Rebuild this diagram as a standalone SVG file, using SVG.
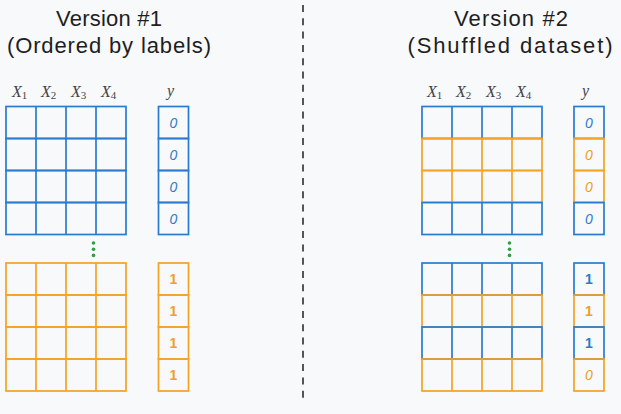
<svg xmlns="http://www.w3.org/2000/svg" xmlns:xlink="http://www.w3.org/1999/xlink" width="621" height="414" viewBox="0 0 621 414">
<style>
.bg{fill:#f8f9fb}
.b{stroke:#2a7bcf;fill:none;stroke-width:1.7}
.o{stroke:#f4a324;fill:none;stroke-width:1.7}
.title{font-family:"Liberation Sans","DejaVu Sans",sans-serif;font-size:22px;fill:#1e1e1e;text-anchor:middle}
.math{font-family:"Liberation Serif","DejaVu Serif",serif;font-style:italic;font-size:16px;fill:#444}
.sub{font-family:"Liberation Serif","DejaVu Serif",serif;font-size:11px;fill:#444;font-style:normal}
.dig{font-family:"Liberation Sans","DejaVu Sans",sans-serif;font-size:14px;font-weight:bold;text-anchor:middle}
.it{font-style:italic;font-weight:normal}
.tb{fill:#2a7bcf}
.to{fill:#f0a020}
.dot{fill:#2f9e44}
</style>
<defs>
<g id="xrow"><rect x="0" y="0" width="120" height="32"/><line x1="30" y1="0" x2="30" y2="32"/><line x1="60" y1="0" x2="60" y2="32"/><line x1="90" y1="0" x2="90" y2="32"/></g>
<rect id="ycell" x="0" y="0" width="30" height="32"/>
</defs>
<rect class="bg" x="0" y="0" width="621" height="414"/>

<g id="titles">
<text class="title" x="109" y="26" textLength="106">Version #1</text>
<text class="title" x="109" y="53" textLength="204">(Ordered by labels)</text>
<text class="title" x="511" y="26" textLength="114">Version #2</text>
<text class="title" x="510" y="53" textLength="205">(Shuffled dataset)</text>
</g>

<g id="headers-left">
<text class="math" x="12" y="96.5">X<tspan class="sub" dy="2.5">1</tspan></text>
<text class="math" x="41" y="96.5">X<tspan class="sub" dy="2.5">2</tspan></text>
<text class="math" x="71" y="96.5">X<tspan class="sub" dy="2.5">3</tspan></text>
<text class="math" x="101" y="96.5">X<tspan class="sub" dy="2.5">4</tspan></text>
<text class="math" x="167" y="96">y</text>
</g>
<g id="headers-right">
<text class="math" x="427" y="96.5">X<tspan class="sub" dy="2.5">1</tspan></text>
<text class="math" x="456" y="96.5">X<tspan class="sub" dy="2.5">2</tspan></text>
<text class="math" x="486" y="96.5">X<tspan class="sub" dy="2.5">3</tspan></text>
<text class="math" x="516" y="96.5">X<tspan class="sub" dy="2.5">4</tspan></text>
<text class="math" x="582" y="96">y</text>
</g>

<g id="left-top-X">
<use href="#xrow" xlink:href="#xrow" class="b" x="6" y="106.5"/>
<use href="#xrow" xlink:href="#xrow" class="b" x="6" y="138.5"/>
<use href="#xrow" xlink:href="#xrow" class="b" x="6" y="170.5"/>
<use href="#xrow" xlink:href="#xrow" class="b" x="6" y="202.5"/>
</g>
<g id="left-top-y">
<use href="#ycell" xlink:href="#ycell" class="b" x="158.5" y="106.5"/>
<use href="#ycell" xlink:href="#ycell" class="b" x="158.5" y="138.5"/>
<use href="#ycell" xlink:href="#ycell" class="b" x="158.5" y="170.5"/>
<use href="#ycell" xlink:href="#ycell" class="b" x="158.5" y="202.5"/>
<text class="dig it tb" x="173.5" y="127.5">0</text>
<text class="dig it tb" x="173.5" y="159.5">0</text>
<text class="dig it tb" x="173.5" y="191.5">0</text>
<text class="dig it tb" x="173.5" y="223.5">0</text>
</g>
<g id="left-dots">
<circle class="dot" cx="93.5" cy="243" r="1.8"/>
<circle class="dot" cx="93.5" cy="249.2" r="1.8"/>
<circle class="dot" cx="93.5" cy="255.4" r="1.8"/>
</g>
<g id="left-bottom-X">
<use href="#xrow" xlink:href="#xrow" class="o" x="6" y="263"/>
<use href="#xrow" xlink:href="#xrow" class="o" x="6" y="295"/>
<use href="#xrow" xlink:href="#xrow" class="o" x="6" y="327"/>
<use href="#xrow" xlink:href="#xrow" class="o" x="6" y="359"/>
</g>
<g id="left-bottom-y">
<use href="#ycell" xlink:href="#ycell" class="o" x="158.5" y="263"/>
<use href="#ycell" xlink:href="#ycell" class="o" x="158.5" y="295"/>
<use href="#ycell" xlink:href="#ycell" class="o" x="158.5" y="327"/>
<use href="#ycell" xlink:href="#ycell" class="o" x="158.5" y="359"/>
<text class="dig to" x="173.5" y="284">1</text>
<text class="dig to" x="173.5" y="316">1</text>
<text class="dig to" x="173.5" y="348">1</text>
<text class="dig to" x="173.5" y="380">1</text>
</g>

<g id="divider">
<line x1="303" y1="5" x2="303" y2="400" stroke="#555" stroke-width="2" stroke-dasharray="7 6.3"/>
</g>

<g id="right-top-X">
<use href="#xrow" xlink:href="#xrow" class="b" x="422" y="106.5"/>
<use href="#xrow" xlink:href="#xrow" class="o" x="422" y="138.5"/>
<use href="#xrow" xlink:href="#xrow" class="o" x="422" y="170.5"/>
<use href="#xrow" xlink:href="#xrow" class="b" x="422" y="202.5"/>
</g>
<g id="right-top-y">
<use href="#ycell" xlink:href="#ycell" class="b" x="574" y="106.5"/>
<use href="#ycell" xlink:href="#ycell" class="o" x="574" y="138.5"/>
<use href="#ycell" xlink:href="#ycell" class="o" x="574" y="170.5"/>
<use href="#ycell" xlink:href="#ycell" class="b" x="574" y="202.5"/>
<text class="dig it tb" x="589" y="127.5">0</text>
<text class="dig it to" x="589" y="159.5">0</text>
<text class="dig it to" x="589" y="191.5">0</text>
<text class="dig it tb" x="589" y="223.5">0</text>
</g>
<g id="right-dots">
<circle class="dot" cx="509.5" cy="243" r="1.8"/>
<circle class="dot" cx="509.5" cy="249.2" r="1.8"/>
<circle class="dot" cx="509.5" cy="255.4" r="1.8"/>
</g>
<g id="right-bottom-X">
<use href="#xrow" xlink:href="#xrow" class="b" x="422" y="263"/>
<use href="#xrow" xlink:href="#xrow" class="o" x="422" y="295"/>
<use href="#xrow" xlink:href="#xrow" class="b" x="422" y="327"/>
<use href="#xrow" xlink:href="#xrow" class="o" x="422" y="359"/>
</g>
<g id="right-bottom-y">
<use href="#ycell" xlink:href="#ycell" class="b" x="574" y="263"/>
<use href="#ycell" xlink:href="#ycell" class="o" x="574" y="295"/>
<use href="#ycell" xlink:href="#ycell" class="b" x="574" y="327"/>
<use href="#ycell" xlink:href="#ycell" class="o" x="574" y="359"/>
<text class="dig tb" x="589" y="284">1</text>
<text class="dig to" x="589" y="316">1</text>
<text class="dig tb" x="589" y="348">1</text>
<text class="dig it to" x="589" y="380">0</text>
</g>
</svg>
